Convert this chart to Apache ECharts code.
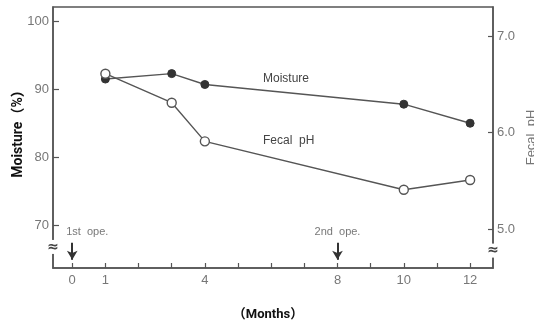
<!DOCTYPE html>
<html>
<head>
<meta charset="utf-8">
<script src="https://cdn.jsdelivr.net/npm/echarts@6/dist/echarts.min.js"></script>
<style>html,body{margin:0;padding:0;background:#fff}#c{width:534px;height:323px}</style>
</head>
<body>
<div id="c"></div>
<script>
// ---- data ----
const months = [1, 3, 4, 10, 12];
const moisture = [91.5, 92.3, 90.7, 87.8, 85.0];
const fecalPH = [6.61, 6.31, 5.91, 5.41, 5.51];
const monthTicks = [0,1,2,3,4,5,6,7,8,9,10,11,12];
const monthLabels = [0, 1, 4, 8, 10, 12];
const moistureTicks = [70, 80, 90, 100];
const phTicks = [5.0, 6.0, 7.0];
const operations = [0, 8];
const operationNames = ['1st  ope.', '2nd  ope.'];

const FONT = '"Liberation Sans Narrow","Liberation Sans",Arial,sans-serif';
const AX = '#555';
const chart = echarts.init(document.getElementById('c'), null, {renderer: 'canvas'});

const option = {
  backgroundColor: '#fff',
  animation: false,
  grid: {left: 53, right: 41, top: 7, bottom: 55, show: true, borderColor: AX, borderWidth: 1.5, backgroundColor: 'transparent', containLabel: false, outerBoundsMode: 'none'},
  xAxis: {
    type: 'value', min: -0.58, max: 12.69,
    name: '（Months）', nameLocation: 'middle', nameGap: 40, nameMoveOverlap: false,
    nameTextStyle: {fontFamily: 'Roboto,"Noto Sans CJK SC",sans-serif', fontWeight: 'bold', fontSize: 13, color: '#111', padding: [0, 10, 0, 0]},
    axisLine: {show: true, onZero: false, lineStyle: {color: AX, width: 1.5}},
    axisTick: {show: true, inside: true, length: 5, customValues: monthTicks, lineStyle: {color: AX, width: 1.2}},
    axisLabel: {customValues: monthLabels, color: '#777', fontFamily: FONT, fontSize: 13, margin: 6},
    splitLine: {show: false}
  },
  yAxis: [{
    type: 'value', min: 63.7, max: 102.1, position: 'left',
    name: 'Moisture（%）', nameLocation: 'middle', nameGap: 28, nameRotate: 90, nameMoveOverlap: false,
    nameTextStyle: {fontFamily: 'Roboto,"Noto Sans CJK SC",sans-serif', fontWeight: 'bold', fontSize: 14, color: '#111', padding: [0, 0, 0, 14]},
    axisLine: {show: true, onZero: false, lineStyle: {color: AX, width: 1.5}},
    axisTick: {show: true, inside: true, length: 6, customValues: moistureTicks, lineStyle: {color: AX, width: 1.2}},
    axisLabel: {customValues: moistureTicks, color: '#777', fontFamily: FONT, fontSize: 13, margin: 4},
    splitLine: {show: false}
  }, {
    type: 'value', min: 4.6, max: 7.30, position: 'right',
    name: 'Fecal  pH', nameLocation: 'middle', nameGap: 32, nameRotate: 90, nameMoveOverlap: false,
    nameTextStyle: {fontFamily: FONT, fontSize: 13, color: '#777'},
    axisLine: {show: true, onZero: false, lineStyle: {color: AX, width: 1.5}},
    axisTick: {show: true, inside: true, length: 5, customValues: phTicks, lineStyle: {color: AX, width: 1.2}},
    axisLabel: {customValues: phTicks, formatter: v => v.toFixed(1), color: '#777', fontFamily: FONT, fontSize: 13, margin: 4},
    splitLine: {show: false}
  }],
  series: [{
    name: 'Moisture', type: 'line', yAxisIndex: 0,
    data: months.map((m, i) => [m, moisture[i]]),
    symbol: 'circle', symbolSize: 8,
    lineStyle: {color: '#555', width: 1.4},
    itemStyle: {color: '#333', borderColor: '#333', borderWidth: 1}
  }, {
    name: 'Fecal pH', type: 'line', yAxisIndex: 1,
    data: months.map((m, i) => [m, fecalPH[i]]),
    symbol: 'circle', symbolSize: 9,
    lineStyle: {color: '#555', width: 1.4},
    itemStyle: {color: '#fff', borderColor: '#555', borderWidth: 1.4},
    z: 3
  }, {
    name: 'ops', type: 'scatter', yAxisIndex: 0, symbolSize: 0,
    data: operations.map((m, i) => ({value: [m, 69.0], label: {offset: [i === 0 ? 15 : 0, 0]}})),
    label: {show: true, position: 'inside', formatter: p => operationNames[p.dataIndex], color: '#555', fontFamily: FONT, fontSize: 11},
    markLine: {
      silent: true, symbol: ['none', 'arrow'], symbolSize: [8, 9],
      label: {show: false},
      lineStyle: {color: '#333', width: 2, type: 'solid'},
      data: operations.map(m => [{coord: [m, 67.4]}, {coord: [m, 64.9]}])
    }
  }]
};
chart.setOption(option);

// decorations: series labels and axis break marks
const p1 = chart.convertToPixel({xAxisIndex: 0, yAxisIndex: 0}, [0, 66.8]);
const p2 = chart.convertToPixel({xAxisIndex: 0, yAxisIndex: 1}, [0, 4.78]);
const leftX = 53, rightX = 493;
chart.setOption({
  graphic: [
    {type: 'text', left: 263, top: 73, style: {text: 'Moisture', fill: '#444', font: '12px ' + FONT}},
    {type: 'text', left: 263, top: 135, style: {text: 'Fecal  pH', fill: '#444', font: '12px ' + FONT}},
    {type: 'text', x: leftX, y: p1[1], style: {text: '≈', fill: '#444', font: 'bold 14px "DejaVu Sans"', align: 'center', verticalAlign: 'middle', backgroundColor: '#fff'}, z: 100},
    {type: 'text', x: rightX, y: p2[1], style: {text: '≈', fill: '#444', font: 'bold 14px "DejaVu Sans"', align: 'center', verticalAlign: 'middle', backgroundColor: '#fff'}, z: 100}
  ]
});
</script>
</body>
</html>
